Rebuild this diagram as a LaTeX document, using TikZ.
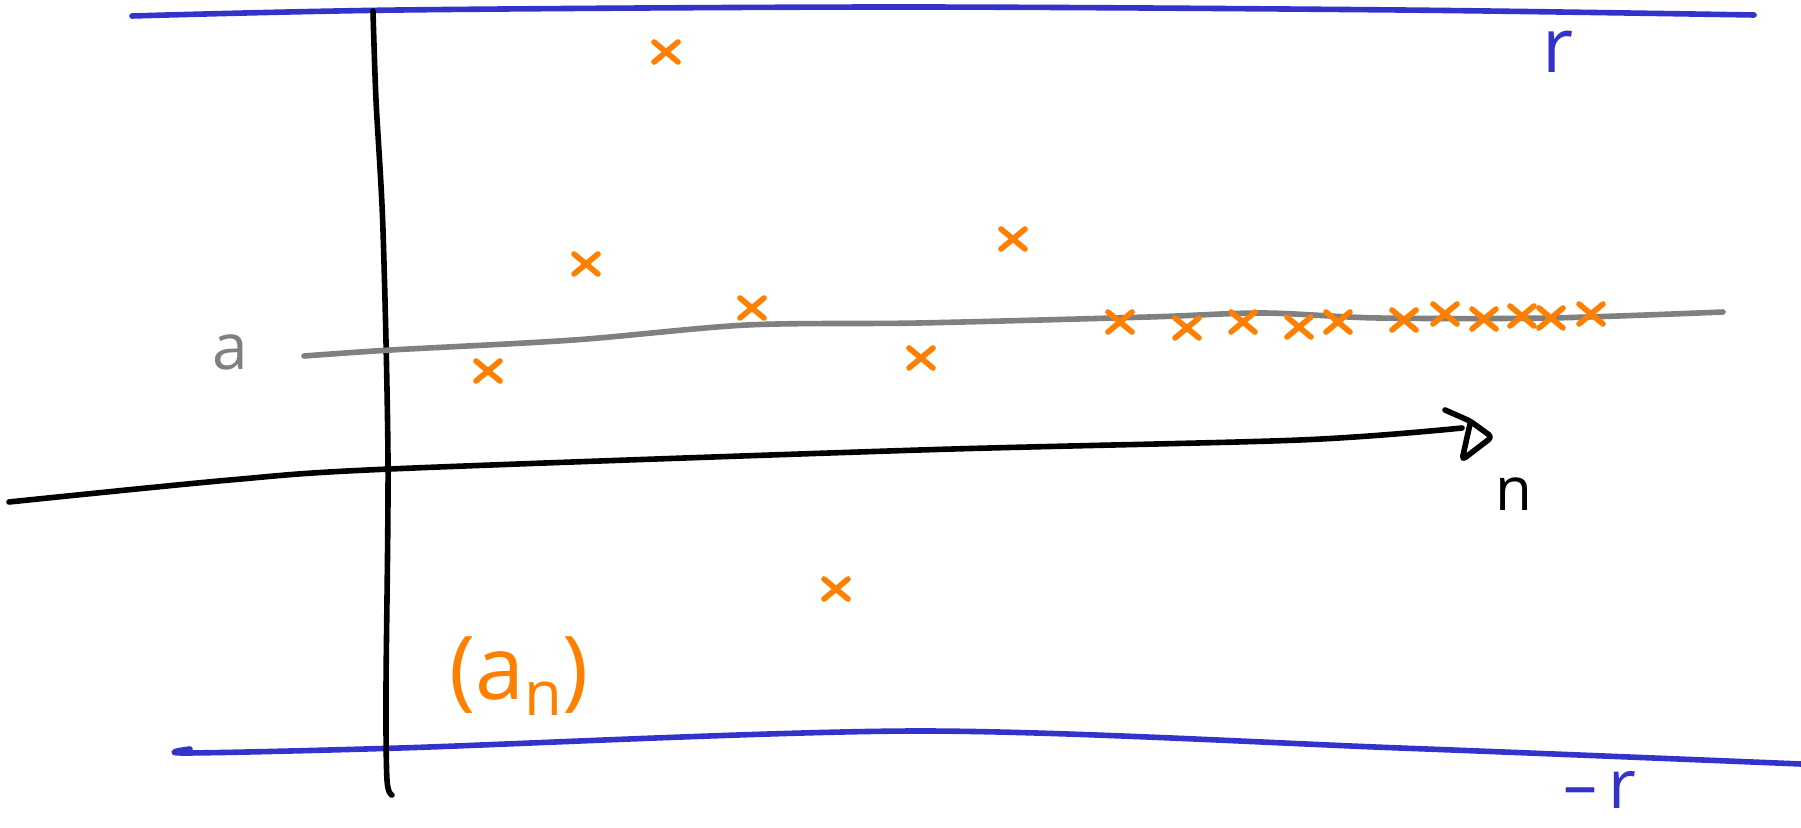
\documentclass[tikz,border=0pt]{standalone}
\usepackage{fontspec}
\setmainfont{Open Sans}
\begin{document}
\begin{tikzpicture}[x=0.5pt,y=-0.5pt,
  pen/.style={line width=2.8pt,line cap=round,line join=round},
  bluepen/.style={pen,draw=penblue},
  grpen/.style={pen,draw=pengray},
  orpen/.style={pen,draw=penorange,line width=2.8pt},
  lbl/.style={inner sep=0pt,font=\fontsize{32}{32}\selectfont}]
\definecolor{penblue}{HTML}{3333CC}
\definecolor{penorange}{HTML}{FF8000}
\definecolor{pengray}{HTML}{808080}
\useasboundingbox (0,0) rectangle (1801,828);
% blue bounds
\draw[bluepen] plot[smooth] coordinates {(132,16) (400,10) (900,7) (1400,10) (1754,15)};
\draw[bluepen] plot[smooth] coordinates {(190,749) (186,753) (400,748) (920,731) (1400,748) (1801,764)};
% vertical axis
\draw[pen] plot[smooth] coordinates {(373,11) (376,100) (383,230) (388,460) (386,690) (387,780) (392,795)};
% horizontal axis with arrow
\draw[pen] plot[smooth] coordinates {(9,502) (230,480) (390,469) (920,450) (1300,440) (1462,428)};
\draw[pen,rounded corners=2pt] (1445,410) -- (1470,421) -- (1492,437) -- (1462,460) -- (1470,424);
% gray limit line
\draw[grpen] plot[smooth] coordinates {(304,356) (391,350) (574,340) (747,325) (919,323) (1149,317) (1263,313) (1378,318) (1550,318) (1723,312)};
% labels
\node[lbl,text=pengray] (la) at (230,352) {a};
\node[lbl,text=black,font=\fontsize{30}{30}\selectfont] (ln) at (1514,494) {n};
\node[lbl,text=penblue,font=\fontsize{38}{38}\selectfont] (lr) at (1558,52) {r};
\node[lbl,text=penblue,font=\fontsize{34}{34}\selectfont,anchor=base] (lmr) at (1600,808) {–\,r};
\node[lbl,text=penorange,font=\fontsize{44}{44}\selectfont] (lan) at (519,676) {(a\textsubscript{n})};
% crosses
\foreach \cx/\cy in {666/52,586/264,488/371,752/308,1013/239,921/358,836/589,1120/322,1187/328,1243/322,1299/327,1338/322,1404/320,1445/314,1484/319,1522/316,1551/318,1591/314}{
  \draw[orpen] (\cx-12,\cy-10) -- (\cx+12,\cy+10);
  \draw[orpen] (\cx+12,\cy-10) -- (\cx-12,\cy+10);
}
\end{tikzpicture}
\end{document}
